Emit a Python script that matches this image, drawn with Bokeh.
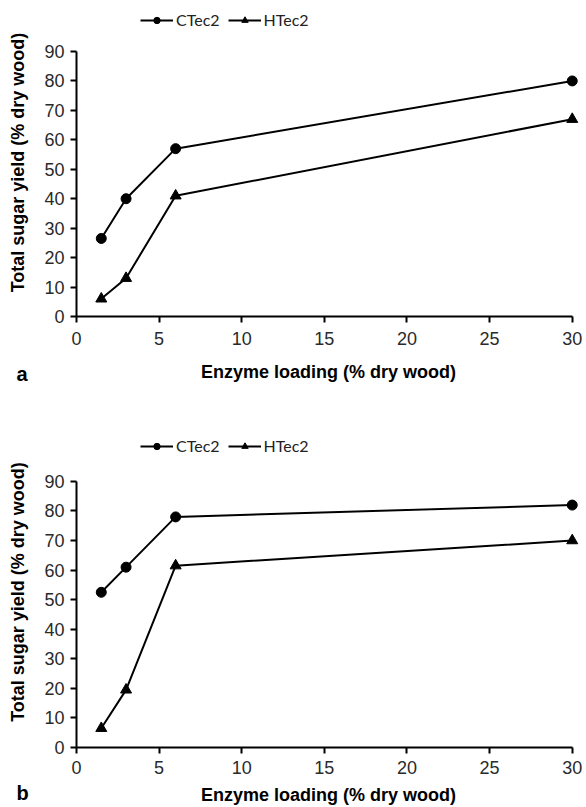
from bokeh.plotting import figure
from bokeh.models import Range1d, Legend, LegendItem, Title, FixedTicker
from bokeh.layouts import column
from bokeh.embed import file_html
from bokeh.resources import INLINE

# Data
loading = [1.5, 3, 6, 30]
a_ctec2 = [26.5, 40, 57, 80]
a_htec2 = [6, 13, 41, 67]
b_ctec2 = [52.5, 61, 78, 82]
b_htec2 = [6.5, 19.5, 61.5, 70]
series_names = ["CTec2", "HTec2"]
x_ticks = [0, 5, 10, 15, 20, 25, 30]
y_ticks = [0, 10, 20, 30, 40, 50, 60, 70, 80, 90]
x_title = "Enzyme loading (% dry wood)"
y_title = "Total sugar yield (% dry wood)"
panel_letters = ["a", "b"]

TICK_FONT = "Liberation Sans"


def make_panel(ctec, htec, letter, height, y_top, top, bottom, tick_standoff, label_standoff,
               legend_y, letter_standoff):
    p = figure(width=586, height=height, output_backend="svg", toolbar_location=None,
               x_range=Range1d(0, 30.5), y_range=Range1d(0, y_top),
               min_border_left=76, min_border_right=6,
               min_border_top=top, min_border_bottom=bottom)
    p.outline_line_color = None
    p.xgrid.visible = False
    p.ygrid.visible = False
    p.background_fill_color = "white"
    p.border_fill_color = "white"

    for ax, ticks in ((p.xaxis[0], x_ticks), (p.yaxis[0], y_ticks)):
        ax.ticker = FixedTicker(ticks=ticks)
        ax.axis_line_color = "black"
        ax.axis_line_width = 2
        ax.major_tick_line_color = "black"
        ax.major_tick_line_width = 2
        ax.major_tick_in = 0
        ax.major_tick_out = 6
        ax.minor_tick_line_color = None
        ax.major_label_text_font = TICK_FONT
        ax.major_label_text_font_size = "18px"
        ax.major_label_text_color = "#2a2a2a"
        ax.axis_label_text_font = TICK_FONT
        ax.axis_label_text_font_size = "18px"
        ax.axis_label_text_font_style = "bold"
        ax.axis_label_text_color = "black"
    p.xaxis[0].bounds = (0, 30)
    p.yaxis[0].bounds = (0, 90)
    p.xaxis[0].axis_label = x_title
    p.xaxis[0].major_label_standoff = tick_standoff
    p.xaxis[0].axis_label_standoff = label_standoff
    p.yaxis[0].axis_label = y_title
    p.yaxis[0].major_label_standoff = 6
    p.yaxis[0].axis_label_standoff = 13

    l1 = p.line(loading, ctec, line_color="black", line_width=2)
    s1 = p.scatter(loading, ctec, marker="circle", size=10, fill_color="black", line_color="black")
    l2 = p.line(loading, htec, line_color="black", line_width=2)
    s2 = p.scatter(loading, htec, marker="triangle", size=11, fill_color="black", line_color="black")

    legend = Legend(items=[LegendItem(label=series_names[0], renderers=[l1, s1]),
                           LegendItem(label=series_names[1], renderers=[l2, s2])],
                    orientation="horizontal", location=(64, legend_y),
                    padding=0, margin=0, spacing=8, glyph_width=33, glyph_height=16,
                    label_height=16, label_standoff=3,
                    label_text_font="Lato", label_text_font_size="16px",
                    label_text_color="#222222",
                    border_line_alpha=0, background_fill_alpha=0)
    p.add_layout(legend)

    p.add_layout(Title(text=letter, align="left", offset=-60, standoff=letter_standoff,
                       vertical_align="top", text_font=TICK_FONT, text_font_size="20px",
                       text_font_style="bold", text_color="black"), "below")
    return p


p1 = make_panel(a_ctec2, a_htec2, panel_letters[0], 400, 104.6, 8, 84, 9, 14, 287, -44)
p2 = make_panel(b_ctec2, b_htec2, panel_letters[1], 407, 105.2, 36, 59, 7, 8, 292, -52)

layout = column(p1, p2, spacing=0)
open("out.html", "w").write(file_html(layout, INLINE))
